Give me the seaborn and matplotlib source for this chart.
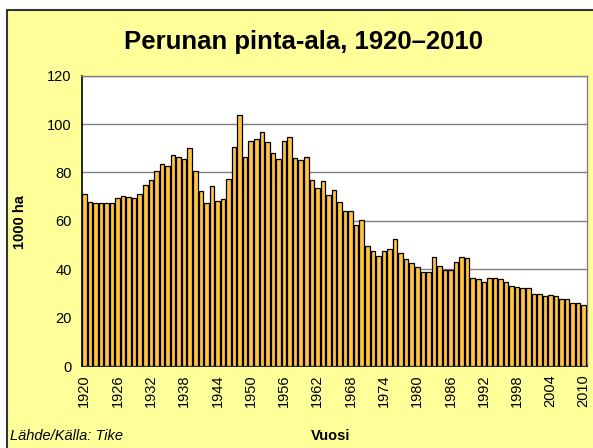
import matplotlib
matplotlib.use("Agg")
import matplotlib.pyplot as plt
import matplotlib.patches as mpatches
import seaborn as sns
import pandas as pd
import numpy as np

# Perunan viljelyala (1000 ha), luettu kuvasta
years = list(range(1920, 2011))
area = [
    71.3, 67.9, 67.2, 67.2, 67.2, 67.2, 69.4, 70.4, 69.8, 69.4,   # 1920-1929
    71.3, 74.9, 77.0, 80.4, 83.5, 82.5, 87.1, 86.5, 85.5, 90.1,   # 1930-1939
    80.4, 72.3, 67.2, 74.3, 68.2, 69.2, 77.4, 90.5, 103.7, 86.5,  # 1940-1949
    93.1, 93.7, 96.7, 92.7, 88.0, 85.5, 93.1, 94.6, 85.9, 85.0,   # 1950-1959
    86.5, 77.0, 73.4, 76.4, 70.8, 72.7, 67.8, 64.2, 64.2, 58.1,   # 1960-1969
    60.2, 49.4, 47.5, 45.3, 47.5, 48.5, 52.6, 46.6, 44.1, 42.6,   # 1970-1979
    40.9, 39.0, 39.0, 44.9, 41.5, 39.5, 39.8, 43.0, 44.9, 44.5,   # 1980-1989
    36.4, 35.8, 34.8, 36.4, 36.4, 35.8, 34.8, 33.2, 32.8, 32.2,   # 1990-1999
    32.2, 29.8, 29.8, 28.8, 29.3, 28.8, 27.8, 27.8, 26.2, 26.2,   # 2000-2009
    25.2,                                                         # 2010
]
label_years = list(range(1920, 2011, 6))
y_ticks = [0, 20, 40, 60, 80, 100, 120]

title = "Perunan pinta-ala, 1920\u20132010"
y_title = "1000 ha"
x_title = "Vuosi"
source = "Lähde/Källa: Tike"

sns.set_style("white")
plt.rcParams['font.family'] = ['Liberation Sans', 'DejaVu Sans']
plt.rcParams['text.color'] = 'black'
plt.rcParams['xtick.color'] = 'black'
plt.rcParams['ytick.color'] = 'black'

W, H = 593, 448
fig = plt.figure(figsize=(W / 100, H / 100), dpi=100)
fig.patch.set_facecolor("white")

# keltainen kaaviotausta mustalla reunuksella
bg = mpatches.Rectangle((7 / W, -0.05), 1.05, (H - 10) / H + 0.05, transform=fig.transFigure,
                        facecolor="#FFFF99", edgecolor="#333333", linewidth=1.5, zorder=-10)
fig.patches.append(bg)

left, right, top, bottom = 81.5, 586.5, 75.7, 366
ax = fig.add_axes([left / W, (H - bottom) / H, (right - left) / W, (bottom - top) / H])
ax.set_facecolor("white")

df = pd.DataFrame({"Vuosi": years, "Ala": area})
sns.barplot(data=df, x="Vuosi", y="Ala", color="#FFC33F", saturation=1,
            width=0.82, edgecolor="black", linewidth=0.9, ax=ax, zorder=3)

ax.set_xlim(-0.5, len(years) - 0.5)
ax.set_ylim(0, 120)
ax.set_yticks(y_ticks)
ax.set_yticklabels([str(t) for t in y_ticks], fontsize=10.5)

pos = [years.index(y) for y in label_years]
ax.set_xticks(pos)
ax.set_xticklabels([str(y) for y in label_years], rotation=90, fontsize=10.5)
ax.set_xticks(np.arange(-0.5, len(years), 1), minor=True)
ax.tick_params(axis="x", which="major", length=0, pad=6)
ax.tick_params(axis="x", which="minor", length=4, width=1, color="black", direction="out")
ax.tick_params(axis="y", which="major", length=4, width=1, color="black", direction="out", pad=3)

ax.yaxis.grid(True, color="#808080", linewidth=1)
ax.set_axisbelow(True)

for s in ["top", "right"]:
    ax.spines[s].set_color("#808080")
    ax.spines[s].set_linewidth(1)
for s in ["left", "bottom"]:
    ax.spines[s].set_color("black")
    ax.spines[s].set_linewidth(1.2)

ax.set_xlabel("")
ax.set_ylabel("")

fig.text(304 / W, 1 - 42 / H, title, ha="center", va="center", fontsize=18.5, fontweight="bold")
fig.text(20 / W, 1 - 222 / H, y_title, ha="center", va="center", rotation=90,
         fontsize=10.5, fontweight="bold")
fig.text(331 / W, 1 - 436 / H, x_title, ha="center", va="center", fontsize=10.5, fontweight="bold")
fig.text(10 / W, 1 - 436 / H, source, ha="left", va="center", fontsize=10.5, style="italic")

fig.savefig("out.png", dpi=100, facecolor=fig.get_facecolor())
